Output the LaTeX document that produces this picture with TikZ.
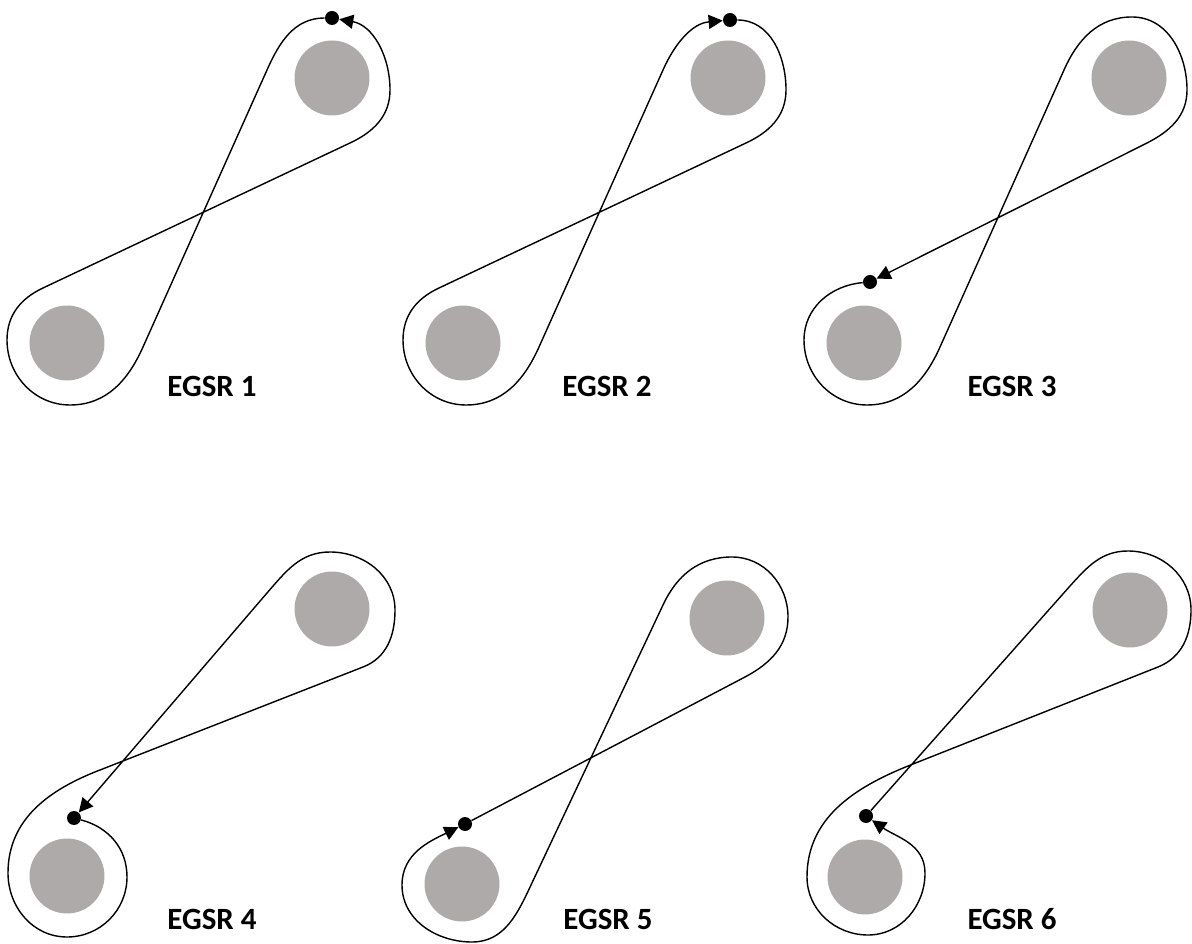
\documentclass[tikz,border=0pt]{standalone}
\usepackage{xcolor}
\usepackage{fontspec}
\newfontfamily\egsrfont{Carlito}
\usetikzlibrary{arrows.meta}
\definecolor{puckgray}{RGB}{174,170,170}

\begin{document}
\begin{tikzpicture}[
    x=0.02cm, y=0.02cm,
    puck/.style={circle, fill=puckgray, minimum size=1.5cm, inner sep=0pt},
    startdot/.style={circle, fill=black, minimum size=0.28cm, inner sep=0pt},
    track/.style={draw, line width=0.8pt},
    trackarrow/.style={track, -{Triangle[length=8pt, width=8pt]}},
    caption/.style={anchor=base, font=\egsrfont\bfseries\fontsize{17.6}{21}\selectfont}
]
    \useasboundingbox (0,0) rectangle (1192,943);

    % EGSR 1
    \begin{scope}[shift={(0,523)}]
        \node[puck] (top1) at (332,342) {};
        \node[puck] (bot1) at (67,77) {};
        \node[startdot] (s1) at (332,402) {};
        \draw[trackarrow] (s1) to[out=180,in=66] (267,350) -- (143,73)
            to[out=246,in=0] (70,15) to[out=180,in=270] (7,80)
            to[out=90,in=205] (43,132) -- (350,277)
            to[out=25,in=270] (390,330) to[out=90,in=350] (s1);
        \node[caption] (lab1) at (212,23) {EGSR 1};
    \end{scope}

    % EGSR 2
    \begin{scope}[shift={(396,523)}]
        \node[puck] (top2) at (332,342) {};
        \node[puck] (bot2) at (67,77) {};
        \node[startdot] (s2) at (334,400) {};
        \draw[trackarrow] (s2) to[out=0,in=90] (390,330)
            to[out=270,in=25] (350,277) -- (43,132)
            to[out=205,in=90] (7,80) to[out=270,in=180] (70,15)
            to[out=0,in=246] (143,73) -- (267,350) to[out=66,in=185] (s2);
        \node[caption] (lab2) at (211,23) {EGSR 2};
    \end{scope}

    % EGSR 3
    \begin{scope}[shift={(797,523)}]
        \node[puck] (top3) at (332,342) {};
        \node[puck] (bot3) at (67,77) {};
        \node[startdot] (s3) at (73,138) {};
        \draw[trackarrow] (s3) to[out=185,in=90] (7,80)
            to[out=270,in=180] (70,15) to[out=0,in=246] (143,73)
            -- (267,350) to[out=66,in=180] (335,403)
            to[out=0,in=90] (390,330) to[out=270,in=27] (350,277) -- (s3);
        \node[caption] (lab3) at (215,23) {EGSR 3};
    \end{scope}

    % EGSR 4
    \begin{scope}[shift={(0,-9)}]
        \node[puck] (top4) at (332,343) {};
        \node[puck] (bot4) at (67,76) {};
        \node[startdot] (s4) at (74,134) {};
        \draw[trackarrow] (s4) to[out=345,in=90] (127,75)
            to[out=270,in=0] (67,15) to[out=180,in=270] (8,79)
            to[out=90,in=201] (100,182) -- (363,285)
            to[out=21,in=270] (395,342) to[out=90,in=0] (330,400)
            to[out=180,in=49] (267,359) -- (s4);
        \node[caption] (lab4) at (212,23) {EGSR 4};
    \end{scope}

    % EGSR 5
    \begin{scope}[shift={(395,-17)}]
        \node[puck] (top5) at (332,342) {};
        \node[puck] (bot5) at (67,76) {};
        \node[startdot] (s5) at (70,136) {};
        \draw[trackarrow] (s5) -- (350,283)
            to[out=28,in=270] (393,343) to[out=90,in=0] (337,403)
            to[out=180,in=65] (268,355) -- (136,75)
            to[out=245,in=0] (77,18) to[out=180,in=270] (7,75)
            to[out=90,in=206] (s5);
        \node[caption] (lab5) at (213,31) {EGSR 5};
    \end{scope}

    % EGSR 6
    \begin{scope}[shift={(798,-9)}]
        \node[puck] (top6) at (332,342) {};
        \node[puck] (bot6) at (67,75) {};
        \node[startdot] (s6) at (68,136) {};
        \draw[trackarrow] (s6) -- (272,366)
            to[out=48,in=180] (330,401) to[out=0,in=90] (393,342)
            to[out=270,in=22] (360,285) -- (110,186)
            to[out=202,in=90] (9,75) to[out=270,in=180] (70,17)
            to[out=0,in=270] (127,79) to[out=90,in=325] (s6);
        \node[caption] (lab6) at (214,23) {EGSR 6};
    \end{scope}

\end{tikzpicture}
\end{document}
